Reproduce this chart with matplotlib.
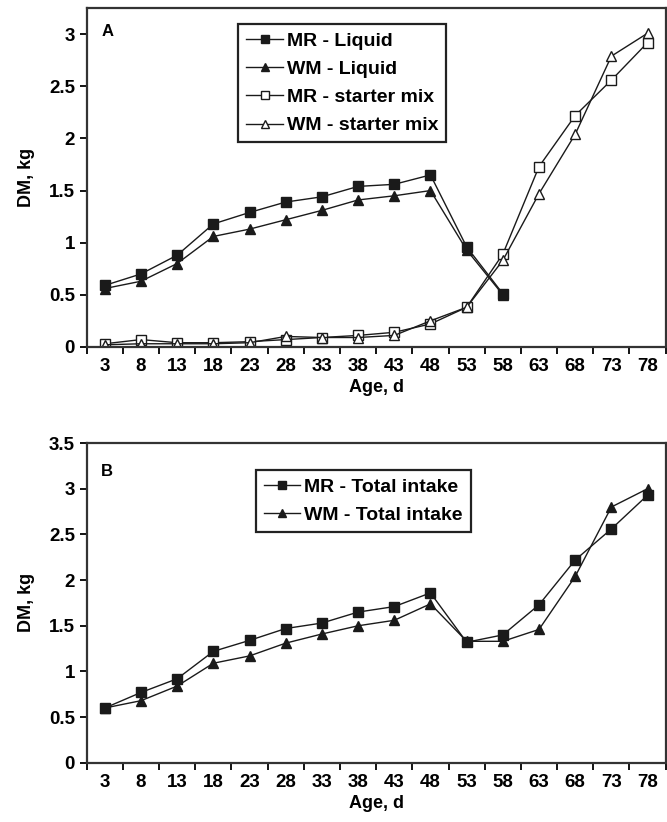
import matplotlib
matplotlib.use("Agg")
import matplotlib.pyplot as plt
import numpy as np

plt.rcParams['font.family'] = ['Liberation Sans', 'DejaVu Sans']
plt.rcParams['font.weight'] = 'bold'

ages = [3, 8, 13, 18, 23, 28, 33, 38, 43, 48, 53, 58, 63, 68, 73, 78]

# panel A
mr_liquid = [0.59, 0.70, 0.88, 1.18, 1.29, 1.39, 1.44, 1.54, 1.56, 1.65, 0.96, 0.51]
wm_liquid = [0.56, 0.63, 0.80, 1.06, 1.13, 1.22, 1.31, 1.41, 1.45, 1.50, 0.93, 0.50]
mr_starter = [0.03, 0.07, 0.04, 0.04, 0.05, 0.07, 0.09, 0.11, 0.14, 0.22, 0.38, 0.89, 1.73, 2.22, 2.56, 2.92]
wm_starter = [0.02, 0.03, 0.03, 0.03, 0.04, 0.10, 0.09, 0.09, 0.11, 0.25, 0.38, 0.83, 1.47, 2.04, 2.79, 3.01]

# panel B
mr_total = [0.60, 0.77, 0.92, 1.22, 1.34, 1.47, 1.53, 1.65, 1.71, 1.86, 1.32, 1.40, 1.73, 2.22, 2.56, 2.93]
wm_total = [0.60, 0.68, 0.84, 1.09, 1.17, 1.31, 1.41, 1.50, 1.56, 1.74, 1.33, 1.33, 1.46, 2.04, 2.80, 3.00]

C = '#1a1a1a'
FS = 13.5


def style_axes(ax, ymax, yticks):
    ax.set_xlim(0.5, 80.5)
    ax.set_ylim(0, ymax)
    ax.set_xticks(ages)
    ax.set_xticklabels([str(a) for a in ages])
    ax.set_xticks(np.arange(0.5, 81, 5), minor=True)
    ax.tick_params(axis='x', which='major', length=0, labelsize=FS, pad=8)
    ax.tick_params(axis='x', which='minor', length=5, width=1.3, direction='out')
    ax.set_yticks(yticks)
    ax.set_yticklabels([f"{t:g}" for t in yticks])
    ax.tick_params(axis='y', length=5, width=1.3, direction='out', labelsize=FS)
    for s in ax.spines.values():
        s.set_linewidth(1.6)
        s.set_color('#333333')
    ax.set_xlabel("Age, d", fontsize=13, fontweight='bold', labelpad=3)
    ax.set_ylabel("DM, kg", fontsize=13, fontweight='bold', labelpad=10)


def legend(ax, anchor):
    leg = ax.legend(loc='upper left', bbox_to_anchor=anchor, fontsize=14,
                    fancybox=False, framealpha=1, edgecolor='#222222',
                    borderaxespad=0, borderpad=0.4, labelspacing=0.55,
                    handlelength=1.9, handletextpad=0.2, markerscale=0.75)
    leg.get_frame().set_linewidth(1.6)
    return leg


fig = plt.figure(figsize=(6.67, 8.22), dpi=100)
axA = fig.add_axes([0.130, 0.578, 0.868, 0.412])
axB = fig.add_axes([0.130, 0.072, 0.868, 0.389])

mk = dict(color=C, linewidth=1.0, markersize=7, markeredgewidth=1.0)
axA.plot(ages[:len(mr_liquid)], mr_liquid, marker='s', label='MR - Liquid', **mk)
axA.plot(ages[:len(wm_liquid)], wm_liquid, marker='^', label='WM - Liquid', **mk)
axA.plot(ages, mr_starter, marker='s', markerfacecolor='white', label='MR - starter mix', **mk)
axA.plot(ages, wm_starter, marker='^', markerfacecolor='white', label='WM - starter mix', **mk)
style_axes(axA, 3.25, [0, 0.5, 1, 1.5, 2, 2.5, 3])
axA.text(0.025, 0.93, "A", transform=axA.transAxes, fontsize=12, fontweight='bold', va='center')
legend(axA, (0.262, 0.953))

axB.plot(ages, mr_total, marker='s', label='MR - Total intake', **mk)
axB.plot(ages, wm_total, marker='^', label='WM - Total intake', **mk)
style_axes(axB, 3.5, [0, 0.5, 1, 1.5, 2, 2.5, 3, 3.5])
axB.text(0.025, 0.91, "B", transform=axB.transAxes, fontsize=12, fontweight='bold', va='center')
legend(axB, (0.292, 0.915))

fig.savefig("out.png", dpi=100)
